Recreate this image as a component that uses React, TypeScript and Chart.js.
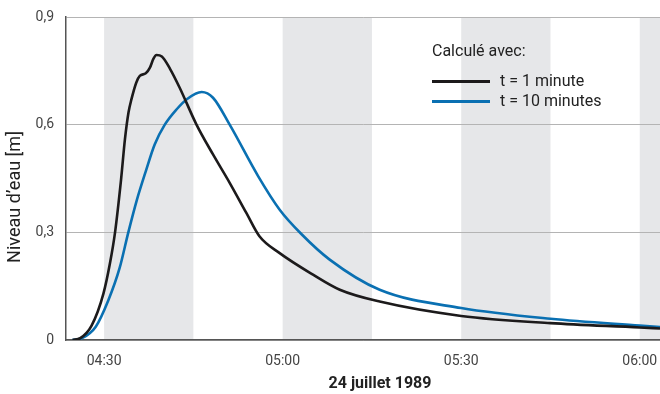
import React, { useEffect, useRef } from "react";
import { Chart, registerables } from "chart.js";

Chart.register(...registerables);

// Time in minutes after 04:00, water level in metres
const minutes1 = [24.7, 26.0, 27.9, 29.9, 31.0, 31.84, 32.85, 33.5, 34.1, 34.6, 35.4, 36.0, 37.0, 37.7, 38.3, 38.8, 39.7, 41.1, 42.7, 45.5, 48.3, 51.1, 53.9, 56.1, 59.5, 65.1, 69.6, 76.3, 90, 105, 120, 123.4];
const level1 = [0, 0.005, 0.04, 0.13, 0.215, 0.3, 0.447, 0.559, 0.634, 0.671, 0.717, 0.736, 0.743, 0.759, 0.784, 0.794, 0.79, 0.755, 0.703, 0.601, 0.517, 0.438, 0.354, 0.289, 0.242, 0.182, 0.14, 0.107, 0.067, 0.047, 0.035, 0.032];

const minutes10 = [24.7, 26.3, 28.6, 30.7, 32.6, 34.07, 35.5, 37.0, 38.5, 40.2, 42.2, 43.9, 46.4, 48.3, 51.1, 55.9, 59.5, 63.1, 67.9, 76.3, 90, 105, 120, 123.4];
const level10 = [0, 0.005, 0.037, 0.11, 0.2, 0.3, 0.39, 0.47, 0.545, 0.6, 0.643, 0.671, 0.691, 0.675, 0.6, 0.456, 0.363, 0.296, 0.224, 0.14, 0.089, 0.059, 0.04, 0.036];

const xTicks = [30, 60, 90, 120];
const yTicks = [0, 0.3, 0.6, 0.9];
const bandStarts = [30, 60, 90, 120];
const bandLength = 15;
const xMin = 23.6;
const xMax = 123.4;

const seriesLabels = ["t = 1 minute", "t = 10 minutes"];
const legendTitle = "Calculé avec:";
const xTitle = "24 juillet 1989";
const yTitle = "Niveau d’eau [m]";

const COLORS = ["#1c1a1b", "#0a70b2"];
const FONT = "Roboto, 'Liberation Sans', sans-serif";

function fmtTime(m: number) {
  const h = 4 + Math.floor(m / 60);
  const mm = Math.round(m % 60);
  return String(h).padStart(2, "0") + ":" + String(mm).padStart(2, "0");
}

const bandsPlugin = {
  id: "bands",
  beforeDraw(chart: any) {
    const { ctx, chartArea } = chart;
    const xs = chart.scales.x;
    ctx.save();
    ctx.fillStyle = "#e6e7e9";
    for (const s of bandStarts) {
      const a = Math.max(xs.getPixelForValue(s), chartArea.left);
      const b = Math.min(xs.getPixelForValue(s + bandLength), chartArea.right);
      if (b > a) ctx.fillRect(a, chartArea.top, b - a, chartArea.bottom - chartArea.top);
    }
    ctx.restore();
  },
};

const textPlugin = {
  id: "texts",
  afterDraw(chart: any) {
    const { ctx } = chart;
    ctx.save();
    // legend
    ctx.fillStyle = "#222";
    ctx.textBaseline = "middle";
    ctx.textAlign = "left";
    ctx.font = `16px ${FONT}`;
    ctx.fillText(legendTitle, 432, 52);
    const rows = [81.5, 101.5];
    seriesLabels.forEach((lab, i) => {
      ctx.strokeStyle = COLORS[i];
      ctx.lineWidth = 3;
      ctx.beginPath();
      ctx.moveTo(432, rows[i]);
      ctx.lineTo(490, rows[i]);
      ctx.stroke();
      ctx.fillStyle = "#222";
      ctx.fillText(lab, 500, rows[i]);
    });
    // x title
    ctx.font = `bold 16px ${FONT}`;
    ctx.textAlign = "center";
    ctx.fillText(xTitle, 380, 384);
    // y title
    ctx.font = `18px ${FONT}`;
    ctx.translate(15, 197);
    ctx.rotate(-Math.PI / 2);
    ctx.fillText(yTitle, 0, 0);
    ctx.restore();
  },
};

export default function App() {
  const ref = useRef<HTMLCanvasElement | null>(null);
  useEffect(() => {
    document.body.style.margin = "0";
    if (!ref.current) return;
    const chart = new Chart(ref.current, {
      type: "line",
      data: {
        datasets: [
          {
            label: seriesLabels[0],
            data: minutes1.map((x, i) => ({ x, y: level1[i] })),
            borderColor: COLORS[0],
            borderWidth: 2.6,
            pointRadius: 0,
            cubicInterpolationMode: "monotone",
            fill: false,
          },
          {
            label: seriesLabels[1],
            data: minutes10.map((x, i) => ({ x, y: level10[i] })),
            borderColor: COLORS[1],
            borderWidth: 2.6,
            pointRadius: 0,
            cubicInterpolationMode: "monotone",
            fill: false,
          },
        ],
      },
      options: {
        animation: false,
        responsive: false,
        maintainAspectRatio: false,
        layout: { padding: { top: 17, right: 0, left: 0, bottom: 0 } },
        plugins: { legend: { display: false }, tooltip: { enabled: false } },
        scales: {
          x: {
            type: "linear",
            min: xMin,
            max: xMax,
            afterBuildTicks: (s: any) => {
              s.ticks = xTicks.map((value) => ({ value }));
            },
            afterFit: (s: any) => {
              s.height = 54;
              s.paddingLeft = 0;
              s.paddingRight = 0;
            },
            grid: { display: false, drawTicks: false },
            border: { color: "#555", width: 1.5 },
            ticks: {
              autoSkip: false,
              maxRotation: 0,
              padding: 13,
              color: "#444",
              font: { family: FONT, size: 14 },
              callback: (v: any) => fmtTime(Number(v)),
            },
          },
          y: {
            min: 0,
            max: 0.9,
            afterBuildTicks: (s: any) => {
              s.ticks = yTicks.map((value) => ({ value }));
            },
            afterFit: (s: any) => {
              s.width = 66;
              s.paddingTop = 0;
              s.paddingBottom = 0;
            },
            grid: { color: "#b4b4b4", lineWidth: 1, drawTicks: false },
            border: { color: "#555", width: 1.5 },
            ticks: {
              padding: 12,
              color: "#444",
              font: { family: FONT, size: 14 },
              callback: (v: any) => (Number(v) === 0 ? "0" : Number(v).toFixed(1).replace(".", ",")),
            },
          },
        },
      },
      plugins: [bandsPlugin, textPlugin],
    } as any);
    return () => chart.destroy();
  }, []);
  return (
    <div style={{ width: 660, height: 394 }}>
      <canvas ref={ref} width={660} height={394} style={{ display: "block" }} />
    </div>
  );
}
